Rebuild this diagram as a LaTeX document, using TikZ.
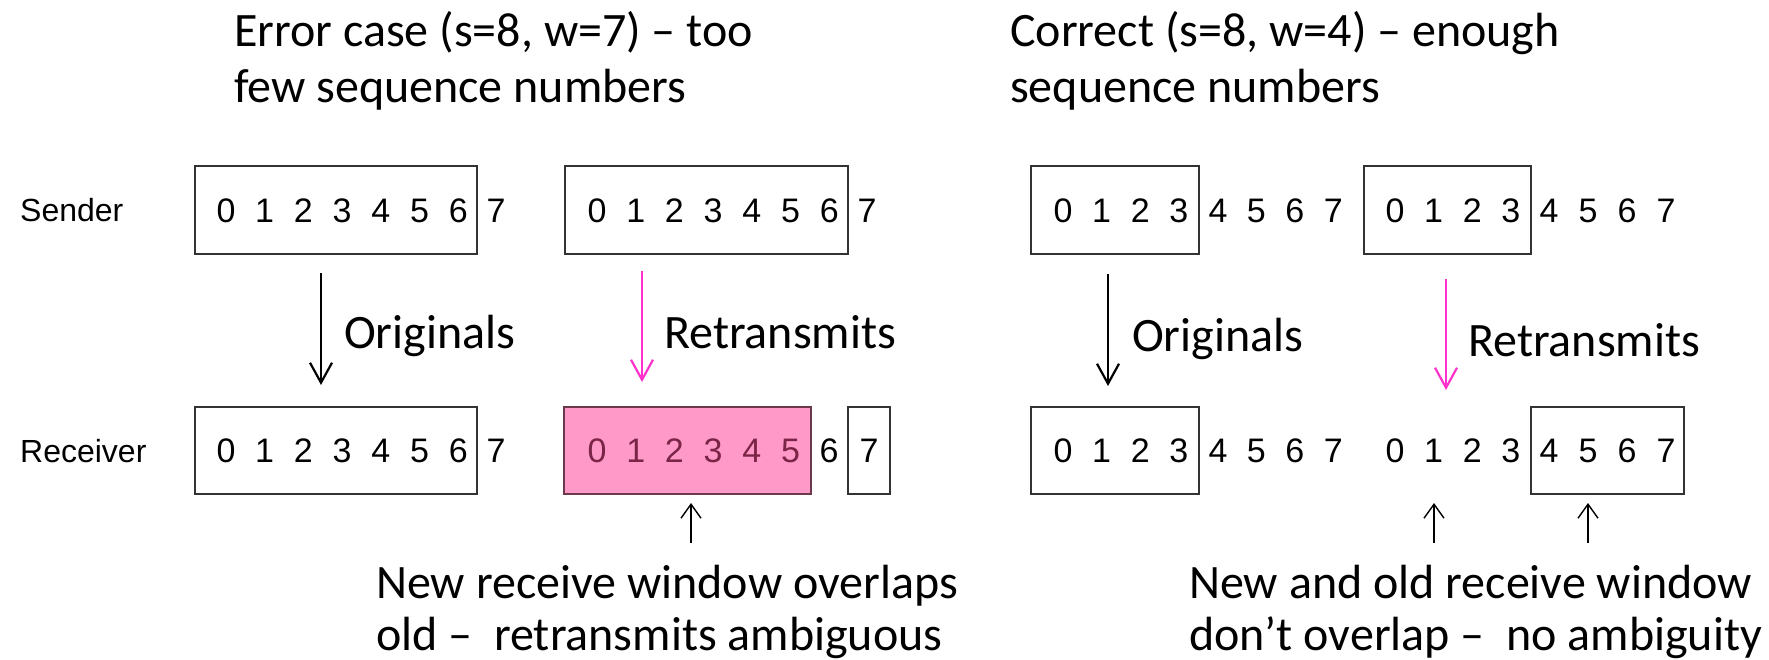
\documentclass[tikz,border=0pt]{standalone}
\usepackage{fontspec}
\setmainfont{Carlito}
\newfontfamily\arialf{Liberation Sans}
\usetikzlibrary{arrows.meta}
\definecolor{mag}{HTML}{FF33CC}
\definecolor{pinkfill}{HTML}{FF99C8}
\definecolor{pinkdig}{HTML}{7A2446}
\definecolor{pinkline}{HTML}{6A3A4C}
\definecolor{boxline}{HTML}{333333}
\begin{document}
\begin{tikzpicture}[x=1pt,y=-1pt,
  dig/.style={font=\arialf\fontsize{34}{40}\selectfont, inner sep=0pt, anchor=base},
  lab/.style={font=\arialf\fontsize{32}{38}\selectfont, inner sep=0pt, anchor=base west},
  txt/.style={font=\fontsize{48}{58}\selectfont, inner sep=0pt, anchor=base west},
  win/.style={draw=boxline, line width=1.5pt, inner sep=0pt},
  flow/.style={line width=2.2pt, -{Straight Barb[length=20pt,width=22pt]}},
  pointer/.style={line width=1.4pt, -{Straight Barb[length=14pt,width=20pt]}},
]
\useasboundingbox (0,0) rectangle (1769,659);

% titles
\node[txt] (t1a) at (234,46) {Error case (s=8, w=7) -- too};
\node[txt] (t1b) at (234,102) {few sequence numbers};
\node[txt] (t2a) at (1010,46) {Correct (s=8, w=4) -- enough};
\node[txt] (t2b) at (1010,102) {sequence numbers};

% row labels
\node[lab] (sender) at (20,221) {Sender};
\node[lab] (receiver) at (20,462) {Receiver};

% windows
\node[win, minimum width=282pt, minimum height=88pt] (sb1) at (336,210) {};
\node[win, minimum width=283pt, minimum height=88pt] (sb2) at (706.5,210) {};
\node[win, minimum width=282pt, minimum height=87pt] (rb1) at (336,450.5) {};
\node[win, draw=pinkline, fill=pinkfill, minimum width=247pt, minimum height=87pt] (rpink) at (687.5,450.5) {};
\node[win, minimum width=42pt, minimum height=87pt] (r7) at (869,450.5) {};
\node[win, minimum width=168pt, minimum height=88pt] (sb3) at (1115,210) {};
\node[win, minimum width=167pt, minimum height=88pt] (sb4) at (1447.5,210) {};
\node[win, minimum width=168pt, minimum height=87pt] (rb5) at (1115,450.5) {};
\node[win, minimum width=153pt, minimum height=87pt] (rb6) at (1607.5,450.5) {};

% digits, left half
\foreach \i in {0,...,6} {
  \node[dig] (sa\i) at ({226+38.7*\i},222) {\i};
  \node[dig] (sb\i) at ({597+38.7*\i},222) {\i};
  \node[dig] (ra\i) at ({226+38.7*\i},462) {\i};
}
\node[dig] (sa7) at (496,222) {7};
\node[dig] (sb7) at (867,222) {7};
\node[dig] (ra7) at (496,462) {7};
\foreach \i in {0,...,5} {
  \node[dig, text=pinkdig] (rb\i) at ({597+38.7*\i},462) {\i};
}
\node[dig] (rb6d) at (829,462) {6};
\node[dig] (rb7d) at (869,462) {7};

% digits, right half
\foreach \i in {0,...,3} {
  \node[dig] (sc\i) at ({1063+38.6*\i},222) {\i};
  \node[dig] (rc\i) at ({1063+38.6*\i},462) {\i};
  \node[dig] (sd\i) at ({1395+38.6*\i},222) {\i};
  \node[dig] (rd\i) at ({1395+38.6*\i},462) {\i};
}
\foreach \i [evaluate=\i as \k using int(\i+4)] in {0,...,3} {
  \node[dig] (sc\k) at ({1218+38.4*\i},222) {\k};
  \node[dig] (rc\k) at ({1218+38.4*\i},462) {\k};
  \node[dig] (sd\k) at ({1549+39*\i},222) {\k};
  \node[dig] (rd\k) at ({1549+39*\i},462) {\k};
}

% transfer arrows
\coordinate (f1s) at (321,273); \coordinate (f1e) at (321,385);
\coordinate (f2s) at (642,271); \coordinate (f2e) at (642,382);
\coordinate (f3s) at (1108,274); \coordinate (f3e) at (1108,386);
\coordinate (f4s) at (1446,279); \coordinate (f4e) at (1446,390);
\draw[flow] (f1s) -- (f1e);
\draw[flow, mag] (f2s) -- (f2e);
\draw[flow] (f3s) -- (f3e);
\draw[flow, mag] (f4s) -- (f4e);
\node[txt] (orig1) at (344,348) {Originals};
\node[txt] (retr1) at (664,348) {Retransmits};
\node[txt] (orig2) at (1132,351) {Originals};
\node[txt] (retr2) at (1468,356) {Retransmits};

% pointers
\coordinate (p1s) at (691,543); \coordinate (p1e) at (691,503);
\coordinate (p2s) at (1434,543); \coordinate (p2e) at (1434,503);
\coordinate (p3s) at (1588,543); \coordinate (p3e) at (1588,503);
\draw[pointer] (p1s) -- (p1e);
\draw[pointer] (p2s) -- (p2e);
\draw[pointer] (p3s) -- (p3e);

% notes
\node[txt] (n1a) at (376,598) {New receive window overlaps};
\node[txt] (n1b) at (376,650) {old --\ \ retransmits ambiguous};
\node[txt] (n2a) at (1189,598) {New and old receive window};
\node[txt] (n2b) at (1189,650) {don’t overlap --\ \ no ambiguity};
\end{tikzpicture}
\end{document}
